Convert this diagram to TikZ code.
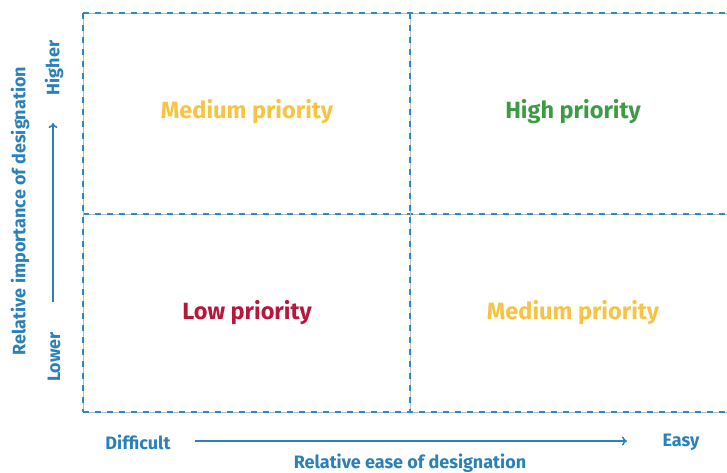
\documentclass[tikz,border=0pt]{standalone}
\usepackage{fontspec}
\setmainfont{Fira Sans}
\usetikzlibrary{positioning,arrows.meta}
\definecolor{axisblue}{HTML}{2A80B9}
\definecolor{dashblue}{HTML}{2B8CC4}
\definecolor{midyellow}{HTML}{F7C343}
\definecolor{highgreen}{HTML}{3E9B45}
\definecolor{lowred}{HTML}{B8173B}
\tikzset{
  cellline/.style={gray!55,line width=.8pt},
  celldash/.style={dashblue,line width=2.2pt,dash pattern=on 6pt off 6pt},
  prio/.style={font=\bfseries\fontsize{23.5}{28}\selectfont},
  axislabel/.style={axisblue,font=\bfseries\fontsize{18}{21}\selectfont},
  axisarrow/.style={-{To[length=5pt,width=9pt]},axisblue,line width=1.5pt},
}

\begin{document}
\begin{tikzpicture}[x=1pt,y=-1pt]
\useasboundingbox (0,0) rectangle (727,473);
\foreach \y in {13,214,412} {
  \draw[cellline] (83,\y) -- (727,\y);
  \draw[celldash] (83,\y) -- (727,\y);
}
\foreach \x in {83,410} {
  \draw[cellline] (\x,13) -- (\x,412);
  \draw[celldash] (\x,13) -- (\x,412);
}
\node[prio,midyellow] (medtop) at (247,112) {Medium priority};
\node[prio,highgreen] (high) at (573,112) {High priority};
\node[prio,lowred] (low) at (247,313) {Low priority};
\node[prio,midyellow] (medbot) at (573,313) {Medium priority};

\node[axislabel] (difficult) at (138,442) {Difficult};
\node[axislabel] (easy) at (681,442) {Easy};
\node[axislabel] (ease) at (410,463) {Relative ease of designation};
\node[axislabel,rotate=90] (higher) at (54,68) {Higher};
\node[axislabel,rotate=90] (lower) at (54,357) {Lower};
\node[axislabel,rotate=90] (importance) at (20,211) {Relative importance of designation};

\coordinate (xstart) at (195,441);
\coordinate (xend) at (627,441);
\coordinate (ystart) at (53,302);
\coordinate (yend) at (53,123);
\draw[axisarrow] (xstart) -- (xend);
\draw[axisarrow] (ystart) -- (yend);
\end{tikzpicture}
\end{document}
